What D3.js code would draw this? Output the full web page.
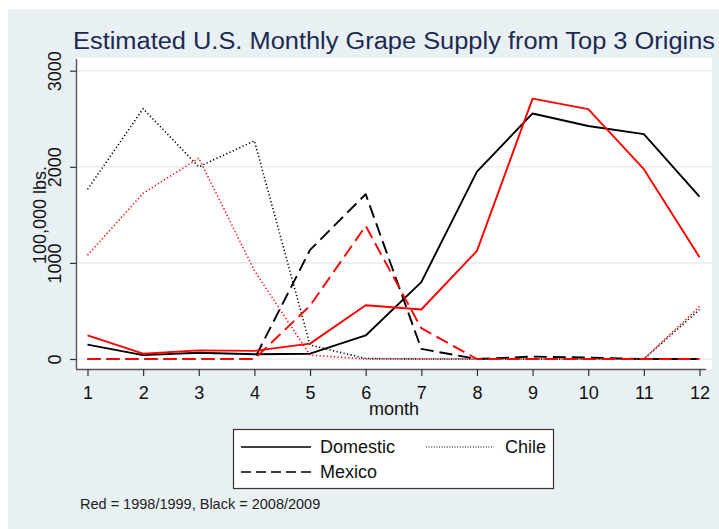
<!DOCTYPE html>
<html>
<head>
	<title>Grape Supply</title>
	<script src="https://cdn.jsdelivr.net/npm/d3@7"></script>
	<style>
		body { margin: 0; background: #fff; }
		text { font-family: "Liberation Sans", Arial, sans-serif; }
	</style>
</head>
<body>
	<div id="chart"></div>
	<script type="text/javascript">
		// data (100,000 lbs.)
		var months = [1, 2, 3, 4, 5, 6, 7, 8, 9, 10, 11, 12];
		var yTicks = [0, 1000, 2000, 3000];

		var domestic_0809 = [150, 40, 65, 50, 55, 245, 800, 1950, 2555, 2425, 2340, 1690];
		var domestic_9899 = [245, 55, 90, 85, 160, 560, 515, 1125, 2710, 2600, 1975, 1060];
		var mexico_0809 = [0, 0, 0, 0, 1135, 1715, 105, 0, 25, 15, 0, 0];
		var mexico_9899 = [0, 0, 0, 0, 555, 1385, 320, 0, 0, 0, 0, 0];
		var chile_0809 = [1765, 2605, 2000, 2270, 145, 5, 0, 0, 0, 0, 0, 515];
		var chile_9899 = [1080, 1725, 2090, 920, 40, 0, 0, 0, 0, 0, 0, 545];

		var series = [
			{ name: "Domestic", values: domestic_0809, color: "#000", dash: null },
			{ name: "Mexico", values: mexico_0809, color: "#000", dash: "13,6" },
			{ name: "Chile", values: chile_0809, color: "#000", dash: "1.2,2.4" },
			{ name: "Domestic", values: domestic_9899, color: "#ff0000", dash: null },
			{ name: "Mexico", values: mexico_9899, color: "#ff0000", dash: "13,6" },
			{ name: "Chile", values: chile_9899, color: "#ff0000", dash: "1.2,2.4" }
		];

		var width = 719, height = 529;
		var plot = { left: 76, right: 712, top: 58, bottom: 369 };

		var svg = d3.select("#chart")
			.append("svg")
				.attr("width", width)
				.attr("height", height);

		// outer background
		svg.append("rect")
			.attr("x", 8).attr("y", 9)
			.attr("width", width - 8).attr("height", height - 9)
			.style("fill", "#e8f0f3");

		// plot region
		svg.append("rect")
			.attr("x", plot.left).attr("y", plot.top)
			.attr("width", plot.right - plot.left).attr("height", plot.bottom - plot.top)
			.style("fill", "#fff");

		var xScale = d3.scaleLinear().domain([1, 12]).range([87.5, 699.5]);
		var yScale = d3.scaleLinear().domain([0, 3000]).range([359, 70.7]);

		// gridlines
		svg.append("g").selectAll("line")
			.data(yTicks)
			.enter().append("line")
				.attr("x1", plot.left).attr("x2", plot.right)
				.attr("y1", function(d) { return yScale(d); })
				.attr("y2", function(d) { return yScale(d); })
				.style("stroke", "#e6eef2")
				.style("stroke-width", 1.6);

		// x axis
		var xAxis = svg.append("g")
			.attr("transform", "translate(0," + plot.bottom + ")")
			.call(d3.axisBottom(xScale).tickValues(months).tickSize(7).tickSizeOuter(0).tickPadding(10));
		xAxis.select(".domain").attr("d", "M" + plot.left + ",0.5H" + (plot.right - 6));
		xAxis.selectAll("line").style("stroke", "#333").style("stroke-width", 1.2);
		xAxis.select(".domain").style("stroke", "#555").style("stroke-width", 1.4);
		xAxis.selectAll("text")
			.style("font-size", "18px").style("fill", "#111")
			.style("font-family", "Liberation Sans, Arial, sans-serif");

		// y axis
		var yAxis = svg.append("g")
			.attr("transform", "translate(" + plot.left + ",0)")
			.call(d3.axisLeft(yScale).tickValues(yTicks).tickSize(6).tickSizeOuter(0).tickFormat(d3.format("d")));
		yAxis.select(".domain").attr("d", "M0.5," + (plot.top + 1) + "V" + plot.bottom);
		yAxis.selectAll("line").style("stroke", "#333").style("stroke-width", 1.2);
		yAxis.select(".domain").style("stroke", "#555").style("stroke-width", 1.4);
		yAxis.selectAll("text")
			.attr("x", null).attr("dy", null)
			.attr("transform", "translate(-15,0) rotate(-90)")
			.style("text-anchor", "middle")
			.style("font-size", "18px").style("fill", "#111")
			.style("font-family", "Liberation Sans, Arial, sans-serif");

		// axis titles
		svg.append("text")
			.attr("transform", "translate(46,215) rotate(-90)")
			.style("text-anchor", "middle")
			.style("font-size", "18px").style("fill", "#111")
			.text("100,000 lbs.");

		svg.append("text")
			.attr("x", 394).attr("y", 415)
			.style("text-anchor", "middle")
			.style("font-size", "18px").style("fill", "#111")
			.text("month");

		// title
		svg.append("text")
			.attr("x", 73).attr("y", 49)
			.attr("textLength", 642).attr("lengthAdjust", "spacingAndGlyphs")
			.style("font-size", "23px").style("fill", "#1c2a52")
			.text("Estimated U.S. Monthly Grape Supply from Top 3 Origins");

		// lines
		var line = d3.line()
			.x(function(d, i) { return xScale(months[i]); })
			.y(function(d) { return yScale(d); });

		svg.append("g").selectAll("path")
			.data(series)
			.enter().append("path")
				.attr("d", function(d) { return line(d.values); })
				.style("fill", "none")
				.style("stroke", function(d) { return d.color; })
				.style("stroke-width", function(d) { return d.dash && d.dash.indexOf("1.2") == 0 ? 1.6 : 1.9; })
				.style("stroke-dasharray", function(d) { return d.dash; })
				.style("stroke-linejoin", "round");

		// legend
		var legend = svg.append("g");
		legend.append("rect")
			.attr("x", 233.5).attr("y", 429.5)
			.attr("width", 320).attr("height", 59)
			.style("fill", "#fff").style("stroke", "#333").style("stroke-width", 1.2);

		var legendItems = [
			{ name: "Domestic", dash: null, x: 241, y: 447 },
			{ name: "Chile", dash: "1,1.6", x: 426, y: 447 },
			{ name: "Mexico", dash: "10,5", x: 241, y: 472 }
		];
		legendItems.forEach(function(it) {
			legend.append("line")
				.attr("x1", it.x).attr("x2", it.x + (it.name == "Chile" ? 68 : 70))
				.attr("y1", it.y).attr("y2", it.y)
				.style("stroke", "#000")
				.style("stroke-width", it.name == "Chile" ? 1 : 1.6)
				.style("stroke-dasharray", it.dash);
			legend.append("text")
				.attr("x", it.x + 79).attr("y", it.y + 6)
				.style("font-size", "18px").style("fill", "#111")
				.text(it.name);
		});

		// note
		svg.append("text")
			.attr("x", 80).attr("y", 509)
			.style("font-size", "14.5px").style("fill", "#222")
			.text("Red = 1998/1999, Black = 2008/2009");
	</script>
</body>
</html>
